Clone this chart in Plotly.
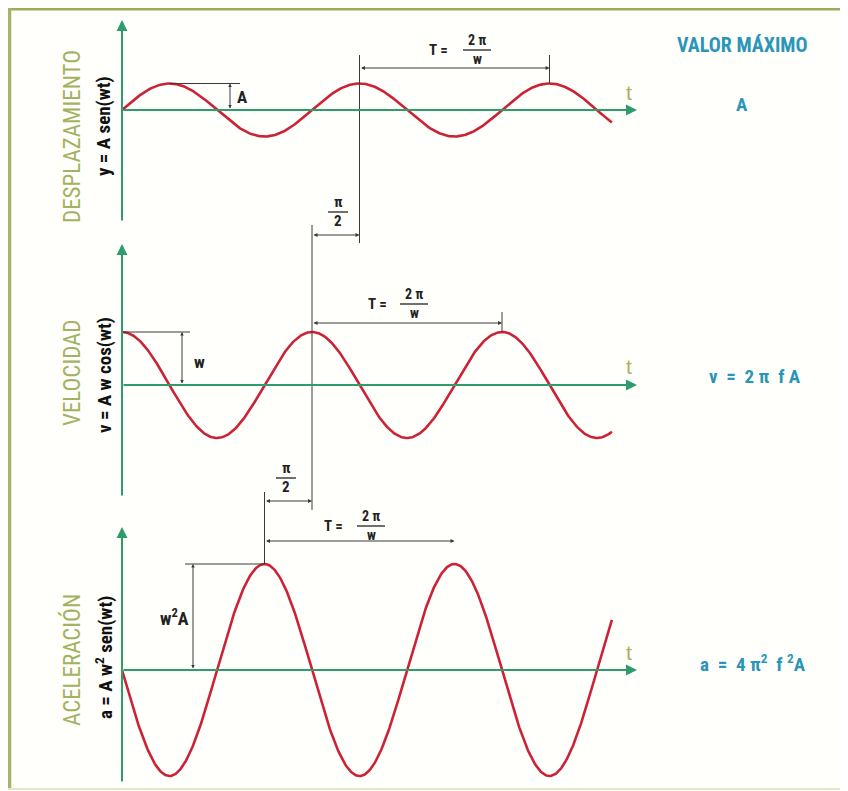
import numpy as np
import plotly.graph_objects as go

# ---- datos del diagrama ----
paneles = ["DESPLAZAMIENTO", "VELOCIDAD", "ACELERACIÓN"]
ecuaciones = ["y = A sen(wt)", "v = A w cos(wt)", "a = A w<sup>2</sup> sen(wt)"]
valor_maximo = ["A", "v  =  2 π  f A", "a  =  4 π<sup>2</sup>  f <sup>2</sup>A"]
amplitud = 1.0      # A
omega = 2.0         # w
fase_fin = 16.2     # wt al final de las curvas (rad)

wt = np.linspace(0, fase_fin, 600)
desplazamiento = amplitud * np.sin(wt)
velocidad = amplitud * omega * np.cos(wt)
aceleracion = -amplitud * omega ** 2 * np.sin(wt)
series = [desplazamiento, velocidad, aceleracion]
picos = [amplitud, amplitud * omega, amplitud * omega ** 2]

# ---- geometria (px de la imagen de referencia) ----
OFF = 8             # margen del <body> en la pagina
W, H = 848 - OFF, 791 - OFF
X0 = 122            # origen t=0
PER_PX = 190        # px por periodo
ESC = 26.5          # px por unidad de amplitud
CEROS = [110, 385, 670]
EJE_V = [(20, 222), (244, 497), (527, 783)]
kx = 2 * np.pi / PER_PX
YREF = ["y", "y2", "y3"]

ROJO = "#cc2236"
VERDE = "#2f9c6c"
OLIVA = "#a3b262"
AZUL = "#2b95b8"
GRIS = "#3a3a3a"
FUENTE = "Liberation Sans Narrow, Roboto Condensed, Liberation Sans, Arial"


def px_x(px):
    return (px - X0) * kx


def px_y(py, i):
    return (CEROS[i] - py) / ESC


def pap(px, py):
    return (px - OFF) / W, 1 - (py - OFF) / H


shapes = []
annotations = []


def linea(x0, y0, x1, y1, yref, color=GRIS, width=1):
    shapes.append(dict(type="line", xref="x", yref=yref, x0=x0, y0=y0, x1=x1, y1=y1,
                       line=dict(color=color, width=width)))


def linea_pap(px0, py0, px1, py1, color, width):
    x0, y0 = pap(px0, py0)
    x1, y1 = pap(px1, py1)
    shapes.append(dict(type="line", xref="paper", yref="paper", x0=x0, y0=y0,
                       x1=x1, y1=y1, line=dict(color=color, width=width)))


def flecha(x0, y0, x1, y1, yref, doble=True, color=GRIS, width=1, size=1.0):
    annotations.append(dict(x=x1, y=y1, ax=x0, ay=y0, xref="x", yref=yref,
                            axref="x", ayref=yref, text="", showarrow=True,
                            arrowhead=2, arrowsize=size, arrowwidth=width,
                            arrowcolor=color, startarrowhead=2, startarrowsize=size,
                            arrowside="end+start" if doble else "end",
                            standoff=0, startstandoff=0))


def texto(px, py, s, size=14, color="#222", angle=0, family=FUENTE):
    x, y = pap(px, py)
    annotations.append(dict(x=x, y=y, xref="paper", yref="paper",
                            text=s, showarrow=False, textangle=angle,
                            xanchor="center", yanchor="middle",
                            font=dict(size=size, color=color, family=family)))


def fraccion(px, py, num, den, size=14, ancho=28):
    texto(px, py - 10, "<b>" + num + "</b>", size)
    texto(px, py + 9, "<b>" + den + "</b>", size)
    linea_pap(px - ancho / 2, py, px + ancho / 2, py, "#222", 1.3)


fig = go.Figure()

for i in range(3):
    fig.add_trace(go.Scatter(x=wt, y=series[i], mode="lines", yaxis=YREF[i],
                             line=dict(color=ROJO, width=2.6),
                             hoverinfo="skip", showlegend=False))
    # ejes con flecha
    flecha(0, 0, px_x(637), 0, YREF[i], doble=False, color=VERDE, width=2, size=1.1)
    top, bot = EJE_V[i]
    flecha(0, px_y(bot, i), 0, px_y(top, i), YREF[i], doble=False, color=VERDE, width=2, size=1.1)
    texto(629, CEROS[i] - 18, "t", 21, "#b3ad5c", family="Liberation Sans, Arial")
    # rotulos izquierda
    texto(72, [137, 373, 660][i], paneles[i], 23, OLIVA, angle=-90)
    texto(104, [126, 375, 658][i], "<b>" + ecuaciones[i] + "</b>", 19, "#111", angle=-90)

# ---- panel desplazamiento ----
p1 = np.pi / 2 + 2 * np.pi
linea(np.pi / 2, picos[0], px_x(240), picos[0], "y")
flecha(px_x(230), 0, px_x(230), picos[0], "y", size=0.7)
texto(242, 97, "<b>A</b>", 17)
linea(p1, px_y(55, 0), p1, px_y(243, 0), "y")
linea(p1 + 2 * np.pi, px_y(55, 0), p1 + 2 * np.pi, picos[0], "y")
flecha(p1, px_y(68, 0), p1 + 2 * np.pi, px_y(68, 0), "y", size=0.8)
texto(439, 50, "<b>T =</b>", 15)
fraccion(477, 50, "2 π", "w")
flecha(p1 - np.pi / 2, px_y(235, 0), p1, px_y(235, 0), "y", size=0.8)
fraccion(338, 212, "π", "2", 15, 20)

# ---- panel velocidad ----
p2 = 2 * np.pi
linea(0, picos[1], px_x(190), picos[1], "y2")
flecha(px_x(182), 0, px_x(182), picos[1], "y2", size=0.7)
texto(199, 362, "<b>w</b>", 17)
linea(p2, px_y(225, 1), p2, px_y(510, 1), "y2")
linea(p2 + 2 * np.pi, px_y(312, 1), p2 + 2 * np.pi, picos[1], "y2")
flecha(p2, px_y(323, 1), p2 + 2 * np.pi, px_y(323, 1), "y2", size=0.8)
texto(377, 304, "<b>T =</b>", 15)
fraccion(414, 304, "2 π", "w")
flecha(p2 - np.pi / 2, px_y(501, 1), p2, px_y(501, 1), "y2", size=0.8)
fraccion(286, 478, "π", "2", 15, 20)

# ---- panel aceleracion ----
p3 = 1.5 * np.pi
linea(p3, px_y(492, 2), p3, picos[2], "y3")
linea(px_x(185), picos[2], p3, picos[2], "y3")
flecha(px_x(193), 0, px_x(193), picos[2], "y3", size=0.7)
texto(174, 617, "<b>w<sup>2</sup>A</b>", 18)
flecha(p3, px_y(541, 2), p3 + 2 * np.pi, px_y(541, 2), "y3", size=0.8)
texto(333, 526, "<b>T =</b>", 15)
fraccion(371, 526, "2 π", "w")

# ---- columna derecha ----
texto(742, 45, "<b>VALOR MÁXIMO</b>", 20, AZUL)
for i, py in enumerate([105, 376, 663]):
    texto([742, 755, 753][i], py, "<b>" + valor_maximo[i] + "</b>", 19, AZUL)

# ---- marco ----
linea_pap(7, 9, 848, 9, "#9bab5c", 3)
linea_pap(9.5, 8, 9.5, 790, "#a5b36b", 3.5)
linea_pap(8, 789, 848, 789, "#dfe8c4", 2)

ejes_y = {}
for i in range(3):
    nombre = "yaxis" if i == 0 else "yaxis%d" % (i + 1)
    ejes_y[nombre] = dict(range=[-(OFF + H - CEROS[i]) / ESC, (CEROS[i] - OFF) / ESC],
                          domain=[0, 1], visible=False, fixedrange=True)
    if i > 0:
        ejes_y[nombre].update(overlaying="y", anchor="x")

fig.update_layout(
    width=W, height=H,
    margin=dict(l=0, r=0, t=0, b=0),
    paper_bgcolor="#fffffb", plot_bgcolor="rgba(0,0,0,0)",
    xaxis=dict(range=[px_x(OFF), px_x(OFF + W)], domain=[0, 1], visible=False, fixedrange=True),
    shapes=shapes, annotations=annotations,
    showlegend=False,
    **ejes_y,
)

fig.write_html("out.html")
